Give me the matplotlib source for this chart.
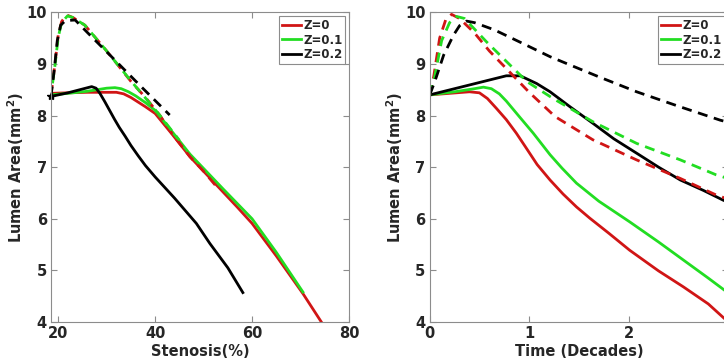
import matplotlib
matplotlib.use("Agg")
import matplotlib.pyplot as plt
import numpy as np

plt.rcParams['font.family'] = ['DejaVu Sans']
plt.rcParams['font.weight'] = 'bold'

RED = '#d01515'
GREEN = '#22dd22'
BLACK = '#000000'
TEXT = '#262626'
EDGE = '#8c8c8c'

labels = ['Z=0', 'Z=0.1', 'Z=0.2']

## Lumen area vs stenosis ______________________________________

# solid lines
sten_red_x = [18.5, 22, 26, 30, 32, 33.5, 35, 36.5, 38, 40, 43.4, 47.2, 50, 54, 57, 60, 65, 70.5, 74.3]
sten_red_y = [8.43, 8.44, 8.45, 8.45, 8.45, 8.42, 8.35, 8.26, 8.17, 8.04, 7.65, 7.20, 6.92, 6.52, 6.22, 5.91, 5.28, 4.55, 4.0]
sten_green_x = [18.5, 22, 26, 30, 31.7, 33, 34.5, 36, 38, 40, 43.4, 47.2, 54, 60, 65, 70.5]
sten_green_y = [8.40, 8.43, 8.47, 8.53, 8.54, 8.52, 8.46, 8.38, 8.25, 8.10, 7.70, 7.25, 6.58, 6.0, 5.35, 4.58]
sten_black_x = [18.5, 22, 26.9, 27.8, 28.6, 29.6, 30.6, 31.6, 32.6, 33.8, 35, 36.5, 38, 40, 44, 48.5, 51.3, 55, 58.1]
sten_black_y = [8.37, 8.44, 8.56, 8.53, 8.43, 8.27, 8.10, 7.93, 7.77, 7.60, 7.42, 7.22, 7.03, 6.81, 6.40, 5.91, 5.52, 5.05, 4.57]

# dashed lines
sten_red_dx = [18.5, 19.3, 20, 20.7, 21.7, 23, 25.5, 30, 35.1, 38, 41, 43.4, 47.2, 50, 52.6]
sten_red_dy = [8.40, 8.98, 9.56, 9.82, 9.95, 9.90, 9.75, 9.25, 8.65, 8.35, 8.0, 7.66, 7.20, 6.92, 6.63]
sten_green_dx = [18.5, 19.3, 20, 20.7, 21.9, 23, 25.5, 30, 35.1, 38, 41, 45]
sten_green_dy = [8.40, 8.95, 9.52, 9.80, 9.93, 9.90, 9.75, 9.25, 8.66, 8.34, 8.0, 7.52]
sten_black_dx = [18.5, 19.2, 19.8, 20.5, 21.5, 23.5, 26, 31, 37, 43]
sten_black_dy = [8.37, 8.9, 9.45, 9.75, 9.84, 9.85, 9.61, 9.14, 8.57, 8.01]

## Lumen area vs time ___________________________________________

time_red_x = [0, 0.2, 0.4, 0.5, 0.58, 0.67, 0.77, 0.87, 0.96, 1.08, 1.21, 1.34, 1.475, 1.61, 1.8, 2.01, 2.3, 2.55, 2.8, 2.96, 3.0]
time_red_y = [8.40, 8.43, 8.46, 8.44, 8.33, 8.14, 7.92, 7.66, 7.40, 7.05, 6.75, 6.48, 6.23, 6.01, 5.72, 5.39, 4.99, 4.68, 4.35, 4.07, 4.01]
time_green_x = [0, 0.25, 0.45, 0.54, 0.62, 0.7, 0.77, 0.9, 1.04, 1.21, 1.33, 1.475, 1.7, 2.01, 2.3, 2.55, 2.8, 2.96, 3.0]
time_green_y = [8.40, 8.46, 8.52, 8.55, 8.52, 8.42, 8.28, 7.98, 7.66, 7.24, 6.98, 6.69, 6.34, 5.94, 5.55, 5.20, 4.85, 4.62, 4.56]
time_black_x = [0, 0.77, 0.91, 1.075, 1.21, 1.41, 1.64, 1.85, 2.08, 2.3, 2.52, 2.75, 2.95, 3.0]
time_black_y = [8.40, 8.77, 8.77, 8.62, 8.46, 8.17, 7.85, 7.55, 7.27, 7.0, 6.75, 6.55, 6.36, 6.32]

time_red_dx = [0, 0.04, 0.10, 0.16, 0.22, 0.3, 0.45, 0.6, 0.8, 1.0, 1.26, 1.64, 2.08, 2.52, 2.88, 3.0]
time_red_dy = [8.40, 8.75, 9.5, 9.85, 9.96, 9.88, 9.60, 9.25, 8.85, 8.45, 7.98, 7.53, 7.14, 6.78, 6.46, 6.38]
time_green_dx = [0, 0.05, 0.12, 0.2, 0.27, 0.35, 0.57, 0.975, 1.24, 1.41, 1.64, 2.08, 2.52, 2.88, 3.0]
time_green_dy = [8.40, 8.75, 9.45, 9.8, 9.92, 9.88, 9.43, 8.66, 8.33, 8.14, 7.88, 7.46, 7.14, 6.85, 6.78]
time_black_dx = [0, 0.05, 0.14, 0.24, 0.3, 0.37, 0.45, 0.65, 0.91, 1.21, 1.41, 1.7, 2.08, 2.5, 2.92, 3.0]
time_black_dy = [8.40, 8.65, 9.17, 9.56, 9.74, 9.83, 9.80, 9.66, 9.42, 9.14, 8.98, 8.75, 8.46, 8.18, 7.91, 7.87]


def style_axes(ax, xlim, xticks, xlabel):
    ax.set_xlim(*xlim)
    ax.set_ylim(4, 10)
    ax.set_xticks(xticks)
    ax.set_yticks([4, 5, 6, 7, 8, 9, 10])
    ax.tick_params(direction='in', length=4, width=0.8, color=EDGE,
                   top=True, right=True, labelsize=10.5, labelcolor=TEXT, pad=3)
    for lab in ax.get_xticklabels() + ax.get_yticklabels():
        lab.set_fontweight('bold')
    for sp in ax.spines.values():
        sp.set_color(EDGE)
        sp.set_linewidth(0.8)
    ax.set_xlabel(xlabel, fontsize=10.5, fontweight='bold', color=TEXT, labelpad=2)
    ax.set_ylabel('Lumen Area(mm$^\\mathbf{2}$)', fontsize=10.5, fontweight='bold', color=TEXT, labelpad=0)
    leg = ax.legend(loc='upper right', fontsize=8.5, handlelength=1.6, handletextpad=0.2,
                    labelspacing=0.15, borderpad=0.25, borderaxespad=0.3,
                    fancybox=False, framealpha=1, edgecolor=EDGE)
    leg.get_frame().set_linewidth(0.8)
    for t in leg.get_texts():
        t.set_fontweight('bold')
        t.set_color(TEXT)


fig = plt.figure(figsize=(7.24, 3.64), dpi=100)
ax1 = fig.add_axes([0.0704, 0.1154, 0.4116, 0.8508])
ax2 = fig.add_axes([0.5935, 0.1154, 0.4123, 0.8508])

lw = 2.0
dash = (0, (3.6, 2.4))
# stenosis panel
ax1.plot(sten_red_x, sten_red_y, color=RED, lw=lw, label=labels[0])
ax1.plot(sten_green_x, sten_green_y, color=GREEN, lw=lw, label=labels[1])
ax1.plot(sten_black_x, sten_black_y, color=BLACK, lw=lw, label=labels[2])
ax1.plot(sten_red_dx, sten_red_dy, color=RED, lw=lw, ls=dash)
ax1.plot(sten_green_dx, sten_green_dy, color=GREEN, lw=lw, ls=(1.8, (3.6, 2.4)))
ax1.plot(sten_black_dx, sten_black_dy, color=BLACK, lw=lw, ls=dash)
ax1.plot(sten_black_x[0], sten_black_y[0], marker='*', color=BLACK, ms=6, clip_on=False)
style_axes(ax1, (18.5, 80), [20, 40, 60, 80], 'Stenosis(%)')

# time panel (axis runs past the right edge of the figure)
ax2.plot(time_red_x, time_red_y, color=RED, lw=lw, label=labels[0])
ax2.plot(time_green_x, time_green_y, color=GREEN, lw=lw, label=labels[1])
ax2.plot(time_black_x, time_black_y, color=BLACK, lw=lw, label=labels[2])
ax2.plot(time_red_dx, time_red_dy, color=RED, lw=lw, ls=dash)
ax2.plot(time_green_dx, time_green_dy, color=GREEN, lw=lw, ls=dash)
ax2.plot(time_black_dx, time_black_dy, color=BLACK, lw=lw, ls=dash)
style_axes(ax2, (0, 3), [0, 1, 2], 'Time (Decades)')

fig.savefig('out.png', dpi=100)
